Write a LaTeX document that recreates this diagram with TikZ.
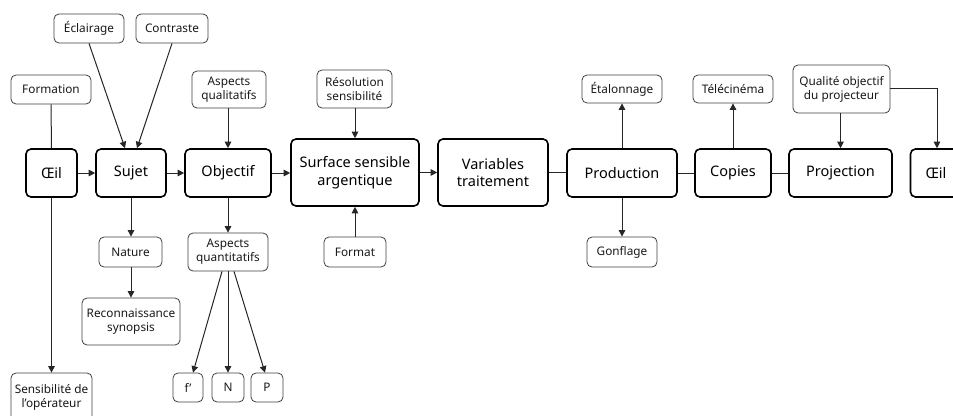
\documentclass[tikz,border=0pt]{standalone}
\usepackage{fontspec}
\setmainfont{Noto Sans}
\usetikzlibrary{arrows.meta}
\begin{document}
\begin{tikzpicture}[x=1pt,y=-1pt,
  mainbox/.style={draw=black, line width=1.6pt, rounded corners=5pt, fill=white,
    align=center, inner sep=0pt, font=\fontsize{14.5}{17.5}\selectfont, text=black},
  smallbox/.style={draw=black!75, line width=0.8pt, rounded corners=5pt, fill=white,
    align=center, inner sep=0pt, font=\fontsize{11.8}{14}\selectfont, text=black!90},
  conn/.style={draw=black!85, line width=1pt},
  arr/.style={conn, -{Triangle[length=6.5pt,width=6.5pt]}}]
\useasboundingbox (0,0) rectangle (953,415);
\clip (0,0) rectangle (953,415);
\fill[white] (0,0) rectangle (953,415);
% main row
\node[mainbox, minimum width=51pt, minimum height=48pt] (oeilA) at (51.5,173) {Œil};
\node[mainbox, minimum width=70pt, minimum height=48pt] (sujet) at (131,173) {Sujet};
\node[mainbox, minimum width=86pt, minimum height=48pt] (objectif) at (228,173) {Objectif};
\node[mainbox, minimum width=128pt, minimum height=67pt] (surface) at (355,172.5) {Surface sensible\\argentique};
\node[mainbox, minimum width=110pt, minimum height=67pt] (variables) at (493,172.5) {Variables\\traitement};
\node[mainbox, minimum width=110pt, minimum height=48pt] (production) at (622,173) {Production};
\node[mainbox, minimum width=76pt, minimum height=48pt] (copies) at (733,173) {Copies};
\node[mainbox, minimum width=103pt, minimum height=48pt] (projection) at (840.5,173) {Projection};
\node[mainbox, minimum width=51pt, minimum height=48pt] (oeilB) at (936,173) {Œil};
% small boxes
\node[smallbox, minimum width=70pt, minimum height=29pt] (eclairage) at (89,28.5) {Éclairage};
\node[smallbox, minimum width=72pt, minimum height=29pt] (contraste) at (172,28.5) {Contraste};
\node[smallbox, minimum width=80pt, minimum height=29pt] (formation) at (51,89.5) {Formation};
\node[smallbox, minimum width=74pt, minimum height=37pt] (aqual) at (229,89.5) {Aspects\\qualitatifs};
\node[smallbox, minimum width=75pt, minimum height=38pt] (resol) at (354.5,89) {Résolution\\sensibilité};
\node[smallbox, minimum width=80pt, minimum height=28pt] (etal) at (622,89) {Étalonnage};
\node[smallbox, minimum width=80pt, minimum height=28pt] (tele) at (733,89) {Télécinéma};
\node[smallbox, minimum width=97pt, minimum height=48pt] (qualite) at (841.5,89) {Qualité objectif\\du projecteur};
\node[smallbox, minimum width=63pt, minimum height=30pt] (nature) at (130.5,252) {Nature};
\node[smallbox, minimum width=98pt, minimum height=47pt] (reco) at (131,321.5) {Reconnaissance\\synopsis};
\node[smallbox, minimum width=80pt, minimum height=38pt] (aquant) at (228,252) {Aspects\\quantitatifs};
\node[smallbox, minimum width=62pt, minimum height=30pt] (format) at (355,252) {Format};
\node[smallbox, minimum width=70pt, minimum height=30pt] (gonflage) at (622,252) {Gonflage};
\node[smallbox, minimum width=81pt, minimum height=48pt] (sensib) at (51.5,397) {Sensibilité de\\l’opérateur};
\node[smallbox, minimum width=30pt, minimum height=29pt] (fp) at (188,387.5) {f’};
\node[smallbox, minimum width=32pt, minimum height=29pt] (nn) at (228,387.5) {N};
\node[smallbox, minimum width=32pt, minimum height=29pt] (pp) at (267,387.5) {P};
% connectors
\draw[conn] (formation.south) -- (oeilA.north);
\draw[arr] (oeilA.south) -- (sensib.north);
\draw[arr] (oeilA.east) -- (sujet.west);
\draw[arr] (eclairage.south) -- ([xshift=-6pt]sujet.north);
\draw[arr] (contraste.south) -- ([xshift=6pt]sujet.north);
\draw[arr] (sujet.east) -- (objectif.west);
\draw[arr] (aqual.south -| objectif.north) -- (objectif.north);
\draw[arr] (objectif.east) -- (objectif.east -| surface.west);
\draw[arr] (sujet.south) -- (sujet.south |- nature.north);
\draw[arr] (nature.south -| reco.north) -- (reco.north);
\draw[arr] (objectif.south) -- (aquant.north);
\draw[arr] ([xshift=-6pt]aquant.south) -- ([xshift=5pt]fp.north);
\draw[arr] (aquant.south) -- (nn.north);
\draw[arr] ([xshift=6pt]aquant.south) -- ([xshift=-2pt]pp.north);
\draw[arr] (resol.south -| surface.north) -- (surface.north);
\draw[arr] (format.north) -- (format.north |- surface.south);
\draw[arr] (surface.east) -- (variables.west);
\draw[conn] (variables.east) -- (variables.east -| production.west);
\draw[conn] (production.east) -- (copies.west);
\draw[conn] (copies.east) -- (projection.west);
\draw[arr] (production.north) -- (etal.south);
\draw[arr] (production.south) -- (gonflage.north);
\draw[arr] (copies.north) -- (tele.south);
\draw[arr] (qualite.south -| projection.north) -- (projection.north);
\draw[arr] ([yshift=1pt]qualite.east) -| ([xshift=1pt]oeilB.north);
\end{tikzpicture}
\end{document}
